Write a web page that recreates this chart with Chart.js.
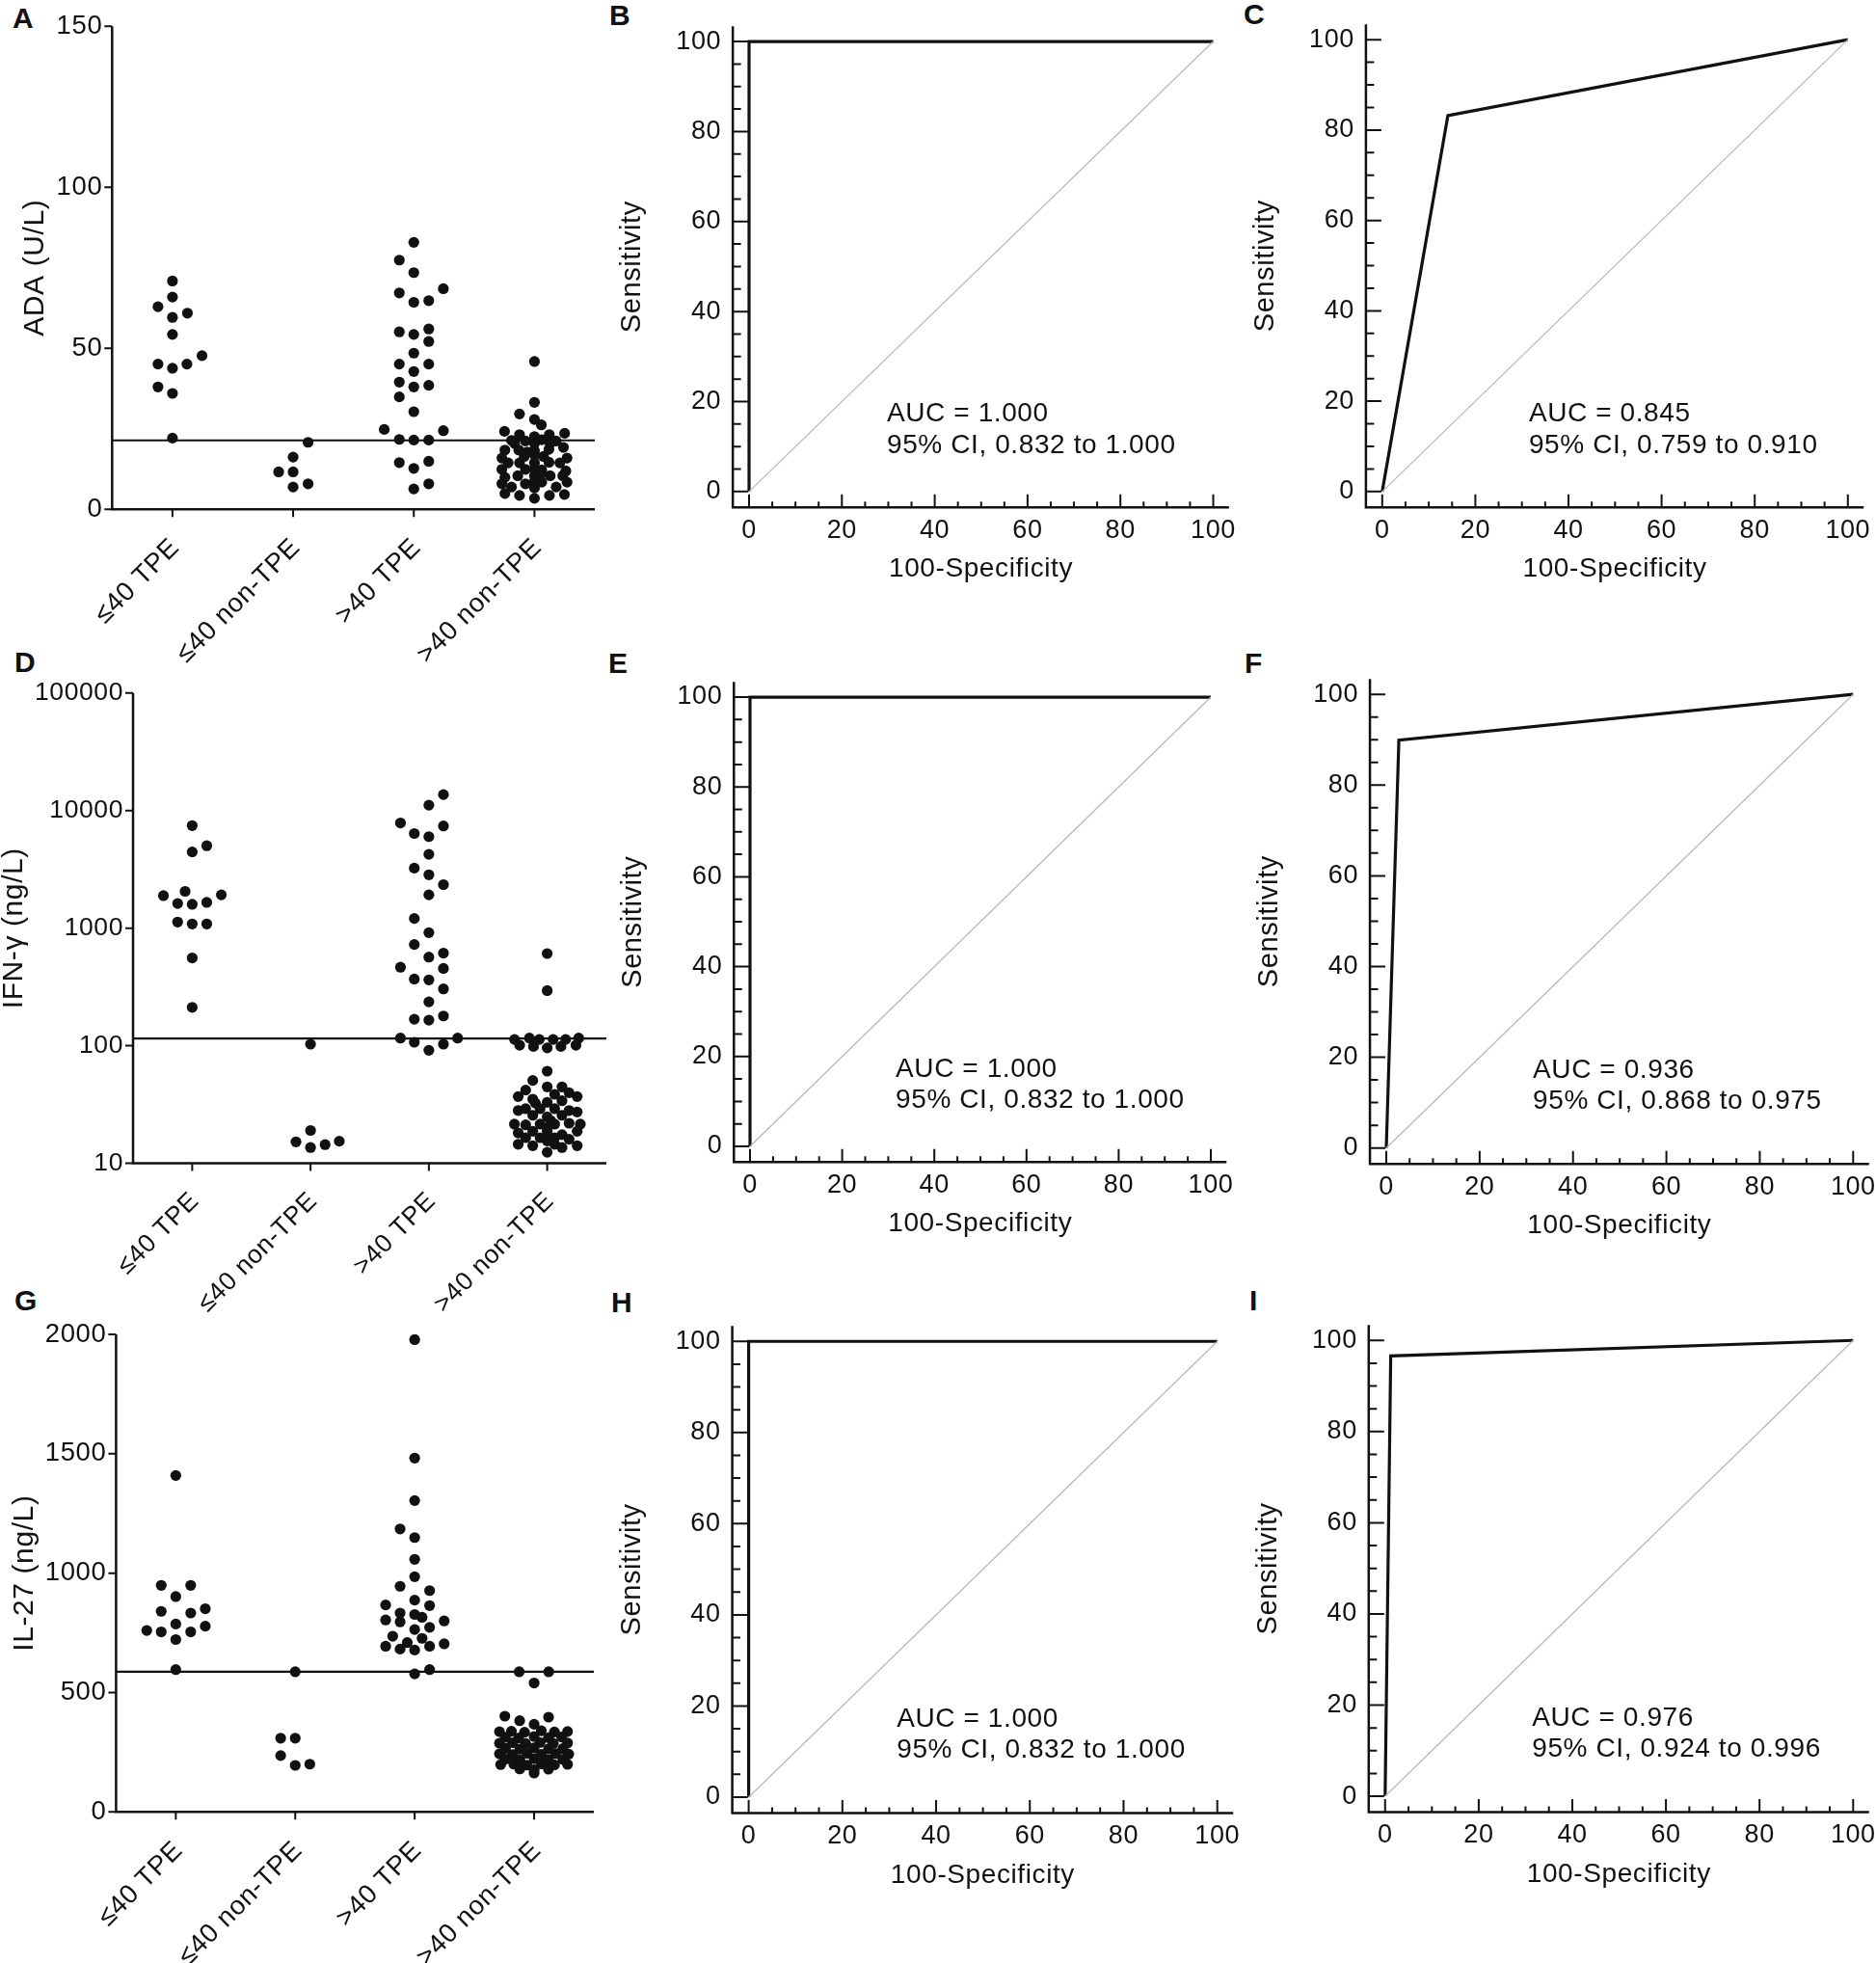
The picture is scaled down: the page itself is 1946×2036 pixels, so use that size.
<!DOCTYPE html>
<html>
<head>
<meta charset="utf-8">
<script src="https://cdn.jsdelivr.net/npm/chart.js@4.4.1/dist/chart.umd.min.js"></script>
<style>
  body { margin: 0; background: #fff; width: 1946px; height: 2036px; position: relative; overflow: hidden;
         font-family: Arial, "Liberation Sans", sans-serif; }
  canvas { position: absolute; }
  .tag { position: absolute; font-weight: bold; font-size: 30px; line-height: 1; color: #111; }
</style>
</head>
<body>
<div class="tag" style="left:13px;top:4px">A</div>
<div class="tag" style="left:632px;top:1px">B</div>
<div class="tag" style="left:1290px;top:0px">C</div>
<div class="tag" style="left:15px;top:672px">D</div>
<div class="tag" style="left:631px;top:673px">E</div>
<div class="tag" style="left:1291px;top:673px">F</div>
<div class="tag" style="left:15px;top:1334px">G</div>
<div class="tag" style="left:634px;top:1336px">H</div>
<div class="tag" style="left:1296px;top:1334px">I</div>

<canvas id="cA"></canvas><canvas id="cB"></canvas><canvas id="cC"></canvas>
<canvas id="cD"></canvas><canvas id="cE"></canvas><canvas id="cF"></canvas>
<canvas id="cG"></canvas><canvas id="cH"></canvas><canvas id="cI"></canvas>

<script>
// ---- données ----
var categories = ['≤40 TPE', '≤40 non-TPE', '>40 TPE', '>40 non-TPE'];

// A : ADA (U/L) — valeurs et décalage horizontal (unités de catégorie)
var adaTicks  = [0, 50, 100, 150];
var adaCutoff = 21.4;
var adaLe40Tpe  = [70.9, 65.9, 62.9, 59.6, 60.9, 54.3, 47.7, 45.1, 45.1, 43.8, 38.0, 36.0, 22.1];
var adaLe40TpeX = [0, 0, -0.12, 0, 0.124, 0, 0.245, -0.12, 0.12, 0, -0.12, 0, 0];
var adaLe40Non  = [20.8, 16.2, 11.6, 11.6, 7.9, 6.9];
var adaLe40NonX = [0.124, 0, -0.12, 0, 0.124, 0];
var adaGt40Tpe  = [82.9, 77.4, 73.5, 68.5, 67.2, 64.3, 64.8, 55.1, 56.0, 54.3, 52.1, 48.5, 45.1, 45.1, 42.8,
                   39.5, 38.0, 38.5, 34.9, 30.3, 24.8, 24.4, 21.7, 21.5, 21.5, 14.5, 14.9, 12.7, 7.9, 6.3];
var adaGt40TpeX = [0, -0.12, 0, 0.245, -0.12, 0, 0.124, -0.12, 0.124, 0, 0.124, 0, -0.12, 0.124, 0,
                   -0.12, 0, 0.124, -0.12, 0, -0.245, 0.245, -0.12, 0, 0.124, -0.12, 0.124, 0, 0.124, 0];
var adaGt40Non  = [45.9, 33.2, 29.6, 27.9, 26.2, 24.2, 23.6, 23.2, 23.2, 22.6,
                   21.4, 21.2, 21.6, 21.2, 20.4, 20.4, 20.4, 18.4, 18.4, 18.6, 19.2,
                   15.9, 16.4, 16.9, 16.4, 15.9, 14.4, 14.4, 14.4, 14.6, 14.4,
                   12.4, 12.4, 12.2, 11.9, 9.9, 10.4, 10.4, 10.4, 10.4,
                   7.9, 7.9, 8.4, 8.4, 6.9, 6.6, 6.9,
                   4.9, 4.3, 3.4, 4.3, 4.6,
                   18.2, 12.6, 8.6, 17.8, 11.2];
var adaGt40NonX = [0, 0, -0.124, 0, 0.057, -0.248, 0.25, -0.124, 0.123, 0,
                   -0.19, -0.075, 0.06, 0.18, -0.164, 0, 0.13, -0.245, -0.13, 0.12, 0.24,
                   -0.27, -0.085, 0, 0.075, 0.27, -0.218, -0.124, 0, 0.12, 0.21,
                   -0.27, -0.075, 0.06, 0.26, -0.245, -0.138, 0, 0.13, 0.235,
                   -0.27, -0.075, 0.06, 0.27, -0.19, 0, 0.18,
                   -0.245, -0.124, 0, 0.124, 0.248,
                   0, 0, 0, -0.06, 0.06];

// D : IFN-γ (ng/L), échelle log
var ifnTicks  = [10, 100, 1000, 10000, 100000];
var ifnCutoff = 115;
var ifnLe40Tpe  = [7450, 5020, 4450, 1890, 2055, 1920, 1620, 1595, 1656, 1127, 1085, 1085, 558, 212];
var ifnLe40TpeX = [0, 0.123, 0, -0.243, -0.06, 0.246, -0.123, 0, 0.123, -0.123, 0, 0.123, 0, 0];
var ifnLe40Non  = [103, 19.0, 15.2, 15.4, 13.6, 14.4];
var ifnLe40NonX = [0, 0, -0.123, 0.243, 0, 0.123];
var ifnGt40Tpe  = [13680, 11120, 7850, 7400, 6380, 6000, 4245, 3240, 2843, 2344, 1919, 1208, 915, 726, 613,
                   567, 465, 454, 369, 363, 304, 236, 179, 168, 165, 116, 116, 107, 103, 91.4];
var ifnGt40TpeX = [0.123, 0, -0.24, 0.123, -0.123, 0, 0, -0.123, 0, 0.123, 0, -0.123, 0, -0.123, 0.123,
                   0, -0.24, 0.123, -0.123, 0, 0.123, 0, 0.123, -0.123, 0, -0.24, 0.243, -0.123, 0.123, 0];
var ifnGt40Non  = [608, 294,
                   113, 116, 113, 113, 113, 116, 101, 98.5, 95.8, 98.5, 101,
                   60.7, 50.6, 41.9, 44.6, 44.6,
                   36.9, 35.1, 38.6, 39.8, 36.9,
                   32.5, 33.0, 34.0,
                   28.1, 29.1, 29.1, 29.1, 28.1, 27.3,
                   25.6, 24.8, 25.6,
                   21.5, 21.2, 21.5, 21.5, 21.9, 21.5,
                   18.1, 18.7, 18.7, 17.5, 18.7,
                   16.5, 16.5, 16.5, 16.0,
                   14.5, 14.1, 14.5, 13.6, 14.1,
                   12.4, 20.0, 23.0, 15.5];
var ifnGt40NonX = [0, 0,
                   -0.276, -0.15, -0.067, 0.05, 0.156, 0.266, -0.233, -0.116, 0, 0.116, 0.243,
                   0, -0.122, -0.182, 0, 0.125,
                   -0.245, -0.122, 0.063, 0.185, 0.253,
                   -0.1, 0, 0.125,
                   -0.245, -0.182, -0.06, 0.063, 0.185, 0.253,
                   -0.122, 0, 0.125,
                   -0.277, -0.182, -0.06, 0.063, 0.185, 0.28,
                   -0.245, -0.122, 0, 0.125, 0.253,
                   -0.182, -0.06, 0.063, 0.185,
                   -0.245, -0.122, 0.063, 0.125, 0.253,
                   0, 0, 0.03, 0];

// G : IL-27 (ng/L)
var il27Ticks  = [0, 500, 1000, 1500, 2000];
var il27Cutoff = 587;
var il27Le40Tpe  = [1409, 949, 949, 902, 840, 833, 851, 787, 778, 760, 754, 754, 722, 596];
var il27Le40TpeX = [0, -0.122, 0.125, 0, -0.122, 0.125, 0.247, 0, 0.247, -0.243, -0.122, 0.125, 0, 0];
var il27Le40Non  = [587, 309, 309, 236, 195, 200];
var il27Le40NonX = [0, -0.122, 0, -0.122, 0, 0.122];
var il27Gt40Tpe  = [1978, 1482, 1304, 1185, 1149, 1058, 985, 945, 927, 887, 867, 864, 833, 827, 815,
                    804, 796, 800, 764, 773, 736, 727, 694, 709, 704, 682, 678, 694, 578, 596];
var il27Gt40TpeX = [0, 0, 0, -0.122, 0, 0, 0, -0.122, 0.125, 0, -0.243, 0.125, -0.122, 0, 0.062,
                    -0.243, -0.122, 0.247, 0, 0.125, -0.184, 0.062, -0.243, -0.062, 0.247, -0.122, 0, 0.125, 0, 0.125];
var il27Gt40Non  = [587, 587, 540, 401, 382, 397, 367,
                    336, 338, 334, 340, 335, 337,
                    313, 310, 316, 311, 314,
                    288, 290, 286, 291, 287, 289,
                    266, 263, 268, 264, 265,
                    243, 240, 245, 241, 244, 242,
                    221, 218, 223, 219, 220,
                    198, 200, 196, 201, 197, 199,
                    180, 176, 179,
                    163];
var il27Gt40NonX = [-0.125, 0.122, 0, -0.245, -0.121, 0.121, 0,
                    -0.29, -0.19, -0.08, 0.06, 0.17, 0.28,
                    -0.24, -0.13, 0, 0.12, 0.23,
                    -0.29, -0.18, -0.07, 0.05, 0.16, 0.28,
                    -0.24, -0.12, 0, 0.12, 0.24,
                    -0.29, -0.18, -0.06, 0.06, 0.18, 0.29,
                    -0.24, -0.12, 0, 0.12, 0.24,
                    -0.28, -0.17, -0.06, 0.06, 0.17, 0.28,
                    -0.12, 0, 0.12,
                    0];

// Courbes ROC (100-spécificité, sensibilité)
var rocMajor = [0, 20, 40, 60, 80, 100];
var rocMinor = [5, 10, 15, 25, 30, 35, 45, 50, 55, 65, 70, 75, 85, 90, 95];
var diagX = [0, 100];
var diagY = [0, 100];
var rocBx = [0, 0, 100],    rocBy = [0, 100, 100];
var rocCx = [0, 14.1, 100], rocCy = [0, 83.2, 100];
var rocEx = [0, 0, 100],    rocEy = [0, 100, 100];
var rocFx = [0, 2.7, 100],  rocFy = [0, 89.9, 100];
var rocHx = [0, 0, 100],    rocHy = [0, 100, 100];
var rocIx = [0, 1.2, 100],  rocIy = [0, 96.6, 100];
var aucTexts = ['AUC = 1.000', 'AUC = 0.845', 'AUC = 1.000', 'AUC = 0.936', 'AUC = 1.000', 'AUC = 0.976'];
var ciTexts  = ['95% CI, 0.832 to 1.000', '95% CI, 0.759 to 0.910', '95% CI, 0.832 to 1.000',
                '95% CI, 0.868 to 0.975', '95% CI, 0.832 to 1.000', '95% CI, 0.924 to 0.996'];

// ---- rendu ----
var FONT = 'Arial, "Liberation Sans", sans-serif';
var INK = '#111';
Chart.defaults.font.family = FONT;
Chart.defaults.color = INK;
Chart.defaults.animation = false;
Chart.defaults.events = [];
Chart.defaults.plugins.legend.display = false;
Chart.defaults.plugins.tooltip.enabled = false;

function fixTicks(list) {
    return function (scale) {
        scale.ticks = list.map(function (v) { return { value: v }; });
    };
}

function pairs(xs, ys) {
    return xs.map(function (x, i) { return { x: x, y: ys[i] }; });
}

// axes, graduations et annotations dessinées à la main
var framePlugin = {
    id: 'frame',
    beforeDraw: function (chart) {
        // texte un peu plus large, comme dans la figure d'origine
        chart.ctx.letterSpacing = '0.6px';
    },
    afterDatasetsDraw: function (chart, args, o) {
        var ctx = chart.ctx, a = chart.chartArea, xs = chart.scales.x, ys = chart.scales.y;
        var s = o.inward ? -1 : 1;
        ctx.save();
        ctx.strokeStyle = INK;
        ctx.lineWidth = 2.5;
        ctx.beginPath();
        ctx.moveTo(a.left, a.top);
        ctx.lineTo(a.left, a.bottom);
        ctx.lineTo(a.right, a.bottom);
        ctx.stroke();

        ctx.lineWidth = 2;
        ctx.beginPath();
        function xt(list, len) {
            list.forEach(function (v) {
                var p = xs.getPixelForValue(v);
                ctx.moveTo(p, a.bottom); ctx.lineTo(p, a.bottom + s * len);
            });
        }
        function yt(list, len) {
            list.forEach(function (v) {
                var p = ys.getPixelForValue(v);
                ctx.moveTo(a.left, p); ctx.lineTo(a.left - s * len, p);
            });
        }
        xt(o.xMajor, o.xMajorLen);
        xt(o.xMinor || [], o.xMinorLen || 0);
        yt(o.yMajor, o.yMajorLen);
        yt(o.yMinor || [], o.yMinorLen || 0);
        ctx.stroke();

        ctx.fillStyle = INK;
        ctx.font = '28px ' + FONT;
        ctx.textAlign = 'left';
        ctx.textBaseline = 'alphabetic';
        (o.notes || []).forEach(function (n) {
            ctx.fillText(n.text, xs.getPixelForValue(n.x), ys.getPixelForValue(n.y));
        });
        ctx.restore();
    }
};

function place(id, left, top, width, height) {
    var c = document.getElementById(id);
    c.style.left = left + 'px';
    c.style.top = top + 'px';
    c.width = width;
    c.height = height;
    return c;
}

var noGrid = { display: false, drawTicks: false };

// nuage de points par groupe (panneaux A, D, G)
function scatterPanel(p) {
    var area = p.area;
    var cl = 0, ct = p.canvasTop;
    var padR = 22, xH = p.canvasH - (area.bottom - ct);
    var c = place(p.id, cl, ct, Math.round(area.right + padR), p.canvasH);
    var yW = area.left - cl;

    var datasets = p.groups.map(function (g, gi) {
        return {
            data: g[0].map(function (v, k) { return { x: gi + g[1][k], y: v }; }),
            pointRadius: 5.6,
            pointBackgroundColor: '#111',
            pointBorderWidth: 0,
            showLine: false
        };
    });
    datasets.push({
        data: [{ x: -0.5, y: p.cutoff }, { x: 3.5, y: p.cutoff }],
        showLine: true, pointRadius: 0, borderColor: '#111', borderWidth: 2.2
    });

    new Chart(c, {
        type: 'scatter',
        data: { datasets: datasets },
        plugins: [framePlugin],
        options: {
            responsive: false,
            layout: { padding: { left: 0, top: area.top - ct, right: padR, bottom: 0 } },
            scales: {
                x: {
                    type: 'linear', min: -0.5, max: 3.5,
                    afterBuildTicks: fixTicks([0, 1, 2, 3]),
                    afterFit: function (s) { s.height = xH; },
                    grid: noGrid, border: { display: false },
                    ticks: {
                        autoSkip: false, minRotation: 45, maxRotation: 45,
                        padding: 24, labelOffset: 3, color: INK,
                        font: { size: p.fontSize },
                        callback: function (v) { return categories[Math.round(v)]; }
                    }
                },
                y: {
                    type: p.log ? 'logarithmic' : 'linear',
                    min: p.ticks[0], max: p.ticks[p.ticks.length - 1],
                    afterBuildTicks: fixTicks(p.ticks),
                    afterFit: function (s) { s.width = yW; },
                    grid: noGrid, border: { display: false },
                    ticks: {
                        padding: 10, color: INK, font: { size: p.fontSize },
                        callback: function (v) { return String(v); }
                    },
                    title: {
                        display: true, text: p.title, color: INK,
                        font: { size: 30, lineHeight: 1 },
                        padding: { top: p.titlePad, bottom: 0 }
                    }
                }
            },
            plugins: {
                frame: {
                    inward: false,
                    xMajor: [0, 1, 2, 3], xMajorLen: 8,
                    yMajor: p.ticks, yMajorLen: 8
                }
            }
        }
    });
}

// courbe ROC (panneaux B, C, E, F, H, I)
function rocPanel(p) {
    var lo = -3.5, hi = 103.4;
    var ux = (p.x100 - p.x0) / 100, uy = (p.y0 - p.y100) / 100;
    var left = p.x0 + lo * ux, right = p.x0 + hi * ux;
    var bottom = p.y0 - lo * uy, top = p.y0 - hi * uy;
    var cl = Math.round(left - 140), ct = Math.round(top - 14);
    var padR = 24, xH = 100;
    var c = place(p.id, cl, ct, Math.round(right + padR - cl), Math.round(bottom + xH - ct));
    var yW = left - cl;
    var xHreal = c.height - (bottom - ct);

    new Chart(c, {
        type: 'scatter',
        data: {
            datasets: [
                { data: pairs(diagX, diagY), showLine: true, pointRadius: 0, borderColor: '#b9b9b9', borderWidth: 1.3 },
                { data: pairs(p.cx, p.cy), showLine: true, pointRadius: 0, borderColor: '#111', borderWidth: 3.2 }
            ]
        },
        plugins: [framePlugin],
        options: {
            responsive: false,
            layout: { padding: { left: 0, top: top - ct, right: c.width - (right - cl), bottom: 0 } },
            scales: {
                x: {
                    type: 'linear', min: lo, max: hi,
                    afterBuildTicks: fixTicks(rocMajor),
                    afterFit: function (s) { s.height = xHreal; },
                    grid: noGrid, border: { display: false },
                    ticks: { padding: 8, color: INK, font: { size: 27 } },
                    title: {
                        display: true, text: '100-Specificity', color: INK,
                        font: { size: 28, lineHeight: 1 },
                        padding: { top: 0, bottom: 21.5 }
                    }
                },
                y: {
                    type: 'linear', min: lo, max: hi,
                    afterBuildTicks: fixTicks(rocMajor),
                    afterFit: function (s) { s.width = yW; },
                    grid: noGrid, border: { display: false },
                    ticks: { padding: 12, color: INK, font: { size: 27 } },
                    title: {
                        display: true, text: 'Sensitivity', color: INK,
                        font: { size: 29, lineHeight: 1 },
                        padding: { top: 21.5, bottom: 0 }
                    }
                }
            },
            plugins: {
                frame: {
                    inward: true,
                    xMajor: rocMajor, xMajorLen: 13.5, xMinor: rocMinor, xMinorLen: 6,
                    yMajor: rocMajor, yMajorLen: 16, yMinor: rocMinor, yMinorLen: 8.5,
                    notes: [
                        { x: p.noteX, y: 15.5, text: p.auc },
                        { x: p.noteX, y: 8.6, text: p.ci }
                    ]
                }
            }
        }
    });
}

scatterPanel({
    id: 'cA', canvasTop: 0, canvasH: 700,
    area: { left: 116.3, right: 617, top: 27.3, bottom: 528.2 },
    ticks: adaTicks, cutoff: adaCutoff, log: false, fontSize: 27.5,
    title: 'ADA (U/L)', titlePad: 21.5,
    groups: [[adaLe40Tpe, adaLe40TpeX], [adaLe40Non, adaLe40NonX],
             [adaGt40Tpe, adaGt40TpeX], [adaGt40Non, adaGt40NonX]]
});
scatterPanel({
    id: 'cD', canvasTop: 680, canvasH: 700,
    area: { left: 138, right: 628.6, top: 718.8, bottom: 1206.5 },
    ticks: ifnTicks, cutoff: ifnCutoff, log: true, fontSize: 26.5,
    title: 'IFN-γ (ng/L)', titlePad: 0,
    groups: [[ifnLe40Tpe, ifnLe40TpeX], [ifnLe40Non, ifnLe40NonX],
             [ifnGt40Tpe, ifnGt40TpeX], [ifnGt40Non, ifnGt40NonX]]
});
scatterPanel({
    id: 'cG', canvasTop: 1330, canvasH: 706,
    area: { left: 120.4, right: 616.3, top: 1384, bottom: 1879.3 },
    ticks: il27Ticks, cutoff: il27Cutoff, log: false, fontSize: 27.5,
    title: 'IL-27 (ng/L)', titlePad: 11,
    groups: [[il27Le40Tpe, il27Le40TpeX], [il27Le40Non, il27Le40NonX],
             [il27Gt40Tpe, il27Gt40TpeX], [il27Gt40Non, il27Gt40NonX]]
});

rocPanel({ id: 'cB', x0: 777, x100: 1258.5, y0: 509.4, y100: 29.8, cx: rocBx, cy: rocBy, noteX: 29.7, auc: aucTexts[0], ci: ciTexts[0] });
rocPanel({ id: 'cC', x0: 1433.8, x100: 1916.8, y0: 509.4, y100: 27.3, cx: rocCx, cy: rocCy, noteX: 31.5, auc: aucTexts[1], ci: ciTexts[1] });
rocPanel({ id: 'cE', x0: 778, x100: 1256, y0: 1188.5, y100: 709, cx: rocEx, cy: rocEy, noteX: 31.6, auc: aucTexts[2], ci: ciTexts[2] });
rocPanel({ id: 'cF', x0: 1438, x100: 1922.3, y0: 1190.2, y100: 706.5, cx: rocFx, cy: rocFy, noteX: 31.4, auc: aucTexts[3], ci: ciTexts[3] });
rocPanel({ id: 'cH', x0: 776.6, x100: 1262.7, y0: 1863.5, y100: 1377.3, cx: rocHx, cy: rocHy, noteX: 31.6, auc: aucTexts[4], ci: ciTexts[4] });
rocPanel({ id: 'cI', x0: 1436.8, x100: 1922.3, y0: 1862.6, y100: 1376.4, cx: rocIx, cy: rocIy, noteX: 31.4, auc: aucTexts[5], ci: ciTexts[5] });
</script>
</body>
</html>
